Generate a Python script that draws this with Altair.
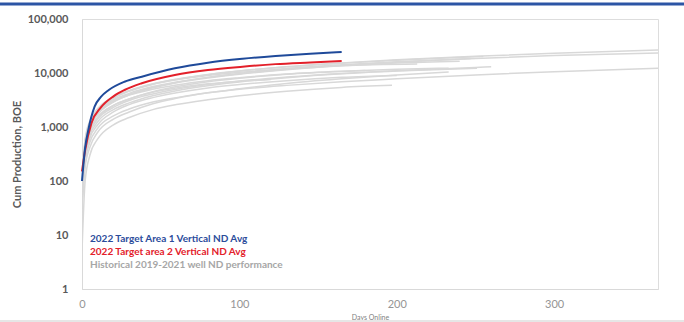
import altair as alt
import pandas as pd

# Sampling days used for the historical well curves
DAYS = [0, 2, 5, 10, 20, 30, 45, 60, 80, 100, 130, 165, 200, 250, 300]

# Historical 2019-2021 wells: cum BOE at DAYS (up to the last sample before the end),
# then the final (day, cum) point of each well
HIST_CUM = [
    [80, 500, 1150, 2000, 3400, 4600, 6200, 7600, 9300, 10900, 13100, 15400, 17600, 20500, 23200],
    [60, 400, 950, 1700, 2900, 3950, 5300, 6600, 8100, 9500, 11500, 13700, 15800, 18500, 21000],
    [40, 220, 520, 950, 1600, 2150, 2900, 3500, 4300, 5000, 5900, 6900, 7800, 9200, 10600],
    [90, 520, 1200, 2100, 3500, 4700, 6300, 7700, 9400, 10900, 13000, 15200, 17300, 20000],
    [70, 420, 1000, 1800, 3000, 4000, 5400, 6700, 8300, 9700, 12000, 14200, 16200],
    [50, 300, 700, 1250, 2100, 2800, 3800, 4700, 5800, 6800, 8200, 9700, 10900],
    [100, 550, 1150, 1900, 3000, 3900, 5000, 6000, 7200, 8200, 9600, 10800, 11700],
    [30, 180, 420, 800, 1400, 1900, 2700, 3400, 4300, 5100, 6400, 7800, 9200],
    [110, 600, 1300, 2200, 3600, 4700, 6200, 7500, 9000, 10300, 12000, 13700],
    [5, 100, 300, 600, 1100, 1500, 2100, 2600, 3200, 3800, 4600, 5400],
    [60, 350, 850, 1500, 2500, 3300, 4500, 5600, 6900, 8000, 9500, 10700],
    [80, 480, 1100, 1950, 3200, 4200, 5600, 6800, 8300, 9700, 11700, 13600, 15300],
    [45, 260, 620, 1100, 1900, 2600, 3500, 4300, 5300, 6100, 7200, 8300],
    [70, 380, 850, 1500, 2500, 3300, 4400, 5300, 6300, 7000],
    [55, 330, 780, 1400, 2300, 3100, 4100, 5000, 6100, 7100, 8400, 9800, 11000, 12700],
]
HIST_END_DAY = [366, 366, 366, 255, 247, 251, 233, 233, 213, 197, 180, 240, 200, 120, 260]
HIST_END_CUM = [26700, 23500, 12300, 20300, 18500, 12300, 12300, 10400, 14700, 5900, 11100, 16500, 9000, 7600, 13000]

# 2022 type curves
AREA1_DAYS = [0, 2, 4, 8, 12, 17, 27, 38, 59, 80, 102, 123, 145, 165]
AREA1_CUM = [100, 420, 880, 2380, 3600, 4840, 6900, 8550, 12200, 15500, 18300, 20600, 22700, 24500]
AREA2_DAYS = [0, 2, 6, 12, 20, 27, 38, 59, 80, 102, 123, 145, 165]
AREA2_CUM = [150, 375, 1175, 2300, 3700, 4840, 6460, 9180, 11370, 13100, 14600, 15700, 16700]

LEGEND_TEXT = [
    "2022 Target Area 1 Vertical ND Avg",
    "2022 Target area 2 Vertical ND Avg",
    "Historical 2019-2021 well ND performance",
]
LEGEND_COLORS = ["#2B4C9B", "#E3202A", "#A6A6A6"]
LEGEND_Y = [220, 233, 246]

FONT = "Lato"
W, H = 576, 270

rows = []
for i, vals in enumerate(HIST_CUM):
    for d, v in zip(DAYS, vals):
        rows.append({"well": f"H{i:02d}", "day": d, "cum": v})
    rows.append({"well": f"H{i:02d}", "day": HIST_END_DAY[i], "cum": HIST_END_CUM[i]})
hist = pd.DataFrame(rows)
area1 = pd.DataFrame({"day": AREA1_DAYS, "cum": AREA1_CUM})
area2 = pd.DataFrame({"day": AREA2_DAYS, "cum": AREA2_CUM})

x_enc = alt.X(
    "day:Q",
    scale=alt.Scale(domain=[0, 366], nice=False, zero=False),
    axis=alt.Axis(
        values=[0, 100, 200, 300], format="d", ticks=False, grid=False, labelFlush=False,
        domainColor="#D9D9D9", domainWidth=1,
        labelFont=FONT, labelFontSize=11, labelColor="#959595", labelPadding=9,
        title="Days Online", titleFont=FONT, titleFontSize=7, titleFontWeight="normal",
        titleColor="#7F7F7F", titleX=288, titleY=28, titleBaseline="middle",
    ),
)
y_enc = alt.Y(
    "cum:Q",
    scale=alt.Scale(type="log", domain=[1, 100000], nice=False),
    axis=alt.Axis(
        values=[1, 10, 100, 1000, 10000, 100000], format=",", ticks=False, grid=False,
        domainColor="#D9D9D9", domainWidth=1,
        labelFont=FONT, labelFontSize=11, labelFontWeight="bold", labelColor="#595959",
        labelPadding=14,
        title="Cum Production, BOE", titleFont=FONT, titleFontSize=11,
        titleFontWeight="bold", titleColor="#595959", titleAngle=-90,
        titleX=-65, titleY=135, titleAlign="center", titleBaseline="middle",
    ),
)

hist_lines = alt.Chart(hist).mark_line(
    interpolate="monotone", color="#D8D8D8", strokeWidth=1.5, clip=True
).encode(x=x_enc, y=y_enc, detail="well:N")

area2_line = alt.Chart(area2).mark_line(
    interpolate="monotone", color="#E3202A", strokeWidth=2
).encode(x=x_enc, y=y_enc)

area1_line = alt.Chart(area1).mark_line(
    interpolate="monotone", color="#1F4A9A", strokeWidth=2
).encode(x=x_enc, y=y_enc)

frame_df = pd.DataFrame({"k": [0]})

legend_layers = [
    alt.Chart(frame_df).mark_text(
        align="left", baseline="middle", font=FONT, fontSize=10, fontWeight="bold",
        color=c, text=t,
    ).encode(x=alt.value(8), y=alt.value(yy))
    for t, c, yy in zip(LEGEND_TEXT, LEGEND_COLORS, LEGEND_Y)
]

top_band = alt.Chart(frame_df).mark_rule(color="#2C55A5", strokeWidth=3).encode(
    x=alt.value(-82), x2=alt.value(602), y=alt.value(-15)
)
bottom_band = alt.Chart(frame_df).mark_rule(color="#E6E6E6", strokeWidth=2).encode(
    x=alt.value(-82), x2=alt.value(602), y=alt.value(302)
)

chart = alt.layer(
    hist_lines, area2_line, area1_line, *legend_layers, top_band, bottom_band
).properties(
    width=W, height=H,
    autosize=alt.AutoSizeParams(type="none"),
    padding={"left": 82, "top": 19, "right": 26, "bottom": 33},
).configure_view(stroke=None).configure(background="white")

chart.save("out.html", embed_options={"renderer": "svg", "actions": False})
